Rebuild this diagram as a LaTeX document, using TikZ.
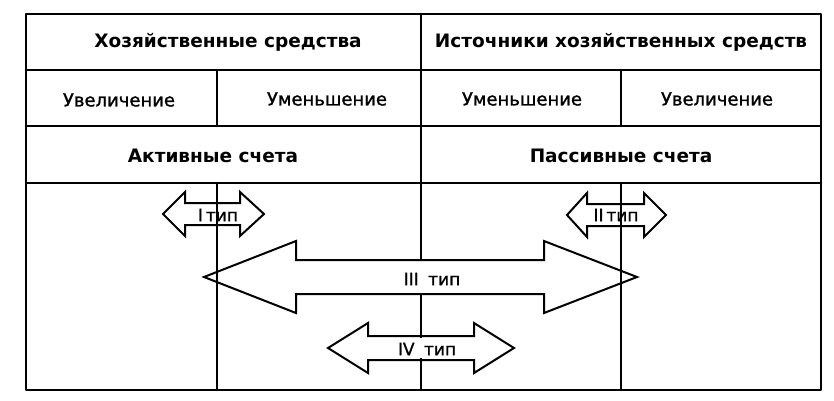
\documentclass[tikz,border=0pt]{standalone}
\usepackage{fontspec}
\setmainfont{DejaVu Sans}
\newfontfamily\medfont[FakeBold=1.2]{DejaVu Sans}
\newcommand\darrow[8]{% name, xL, xbL, xbR, xR, y, headhalf, shafthalf
  \draw[arr] (#2,#6) -- (#3,#6-#7) -- (#3,#6-#8) -- (#4,#6-#8) -- (#4,#6-#7)
    -- (#5,#6) -- (#4,#6+#7) -- (#4,#6+#8) -- (#3,#6+#8) -- (#3,#6+#7) -- cycle;
  \coordinate (#1) at ({(#2+#5)/2},#6);}
\begin{document}
\begin{tikzpicture}[x=1pt,y=-1pt,
  grid/.style={line width=2.6pt,line cap=round,line join=round},
  arr/.style={line width=2pt,line join=miter},
  head/.style={font=\fontsize{18.5}{20}\selectfont\bfseries,inner sep=0pt},
  sub/.style={font=\fontsize{18}{20}\selectfont\medfont,inner sep=0pt},
  lab/.style={font=\fontsize{17}{19}\selectfont\medfont,inner sep=0pt}]
\useasboundingbox[fill=white] (0,0) rectangle (834,400);
% table
\draw[grid] (26,14) rectangle (821,390);
\draw[grid] (26,70) -- (821,70);
\draw[grid] (26,126) -- (821,126);
\draw[grid] (26,183) -- (821,183);
\draw[grid] (421,14) -- (421,390);
\draw[grid] (217,70) -- (217,126);
\draw[grid] (621,70) -- (621,126);
\draw[grid] (217,183) -- (217,390);
\draw[grid] (621,183) -- (621,390);
% texts
\node[head] (h1) at (228,42) {Хозяйственные средства};
\node[head] (h2) at (621,42) {Источники хозяйственных средств};
\node[sub] (s1) at (119,100) {Увеличение};
\node[sub] (s2) at (327,99) {Уменьшение};
\node[sub] (s3) at (522,99) {Уменьшение};
\node[sub] (s4) at (717,99) {Увеличение};
\node[head] (a1) at (213,156) {Активные счета};
\node[head] (a2) at (621,156) {Пассивные счета};
% hide middle line inside the shafts of III and IV
\fill[white] (414,261) rectangle (428,293);
\fill[white] (414,338) rectangle (428,358);
% arrows
\darrow{A1}{163}{185}{240}{264}{214}{22}{11}
\darrow{A2}{567}{587}{644}{666}{215}{22}{11}
\darrow{A3}{204}{296}{544}{637}{277}{36}{17}
\darrow{A4}{328}{368}{474}{514}{348}{25}{12}
\node[lab] (t1) at (218,215) {I\,тип};
\node[lab] (t2) at (616,215) {II\,тип};
\node[lab] (t3) at (432,279) {III\;\;тип};
\node[lab] (t4) at (427,349) {IV\;\;тип};
\end{tikzpicture}
\end{document}
